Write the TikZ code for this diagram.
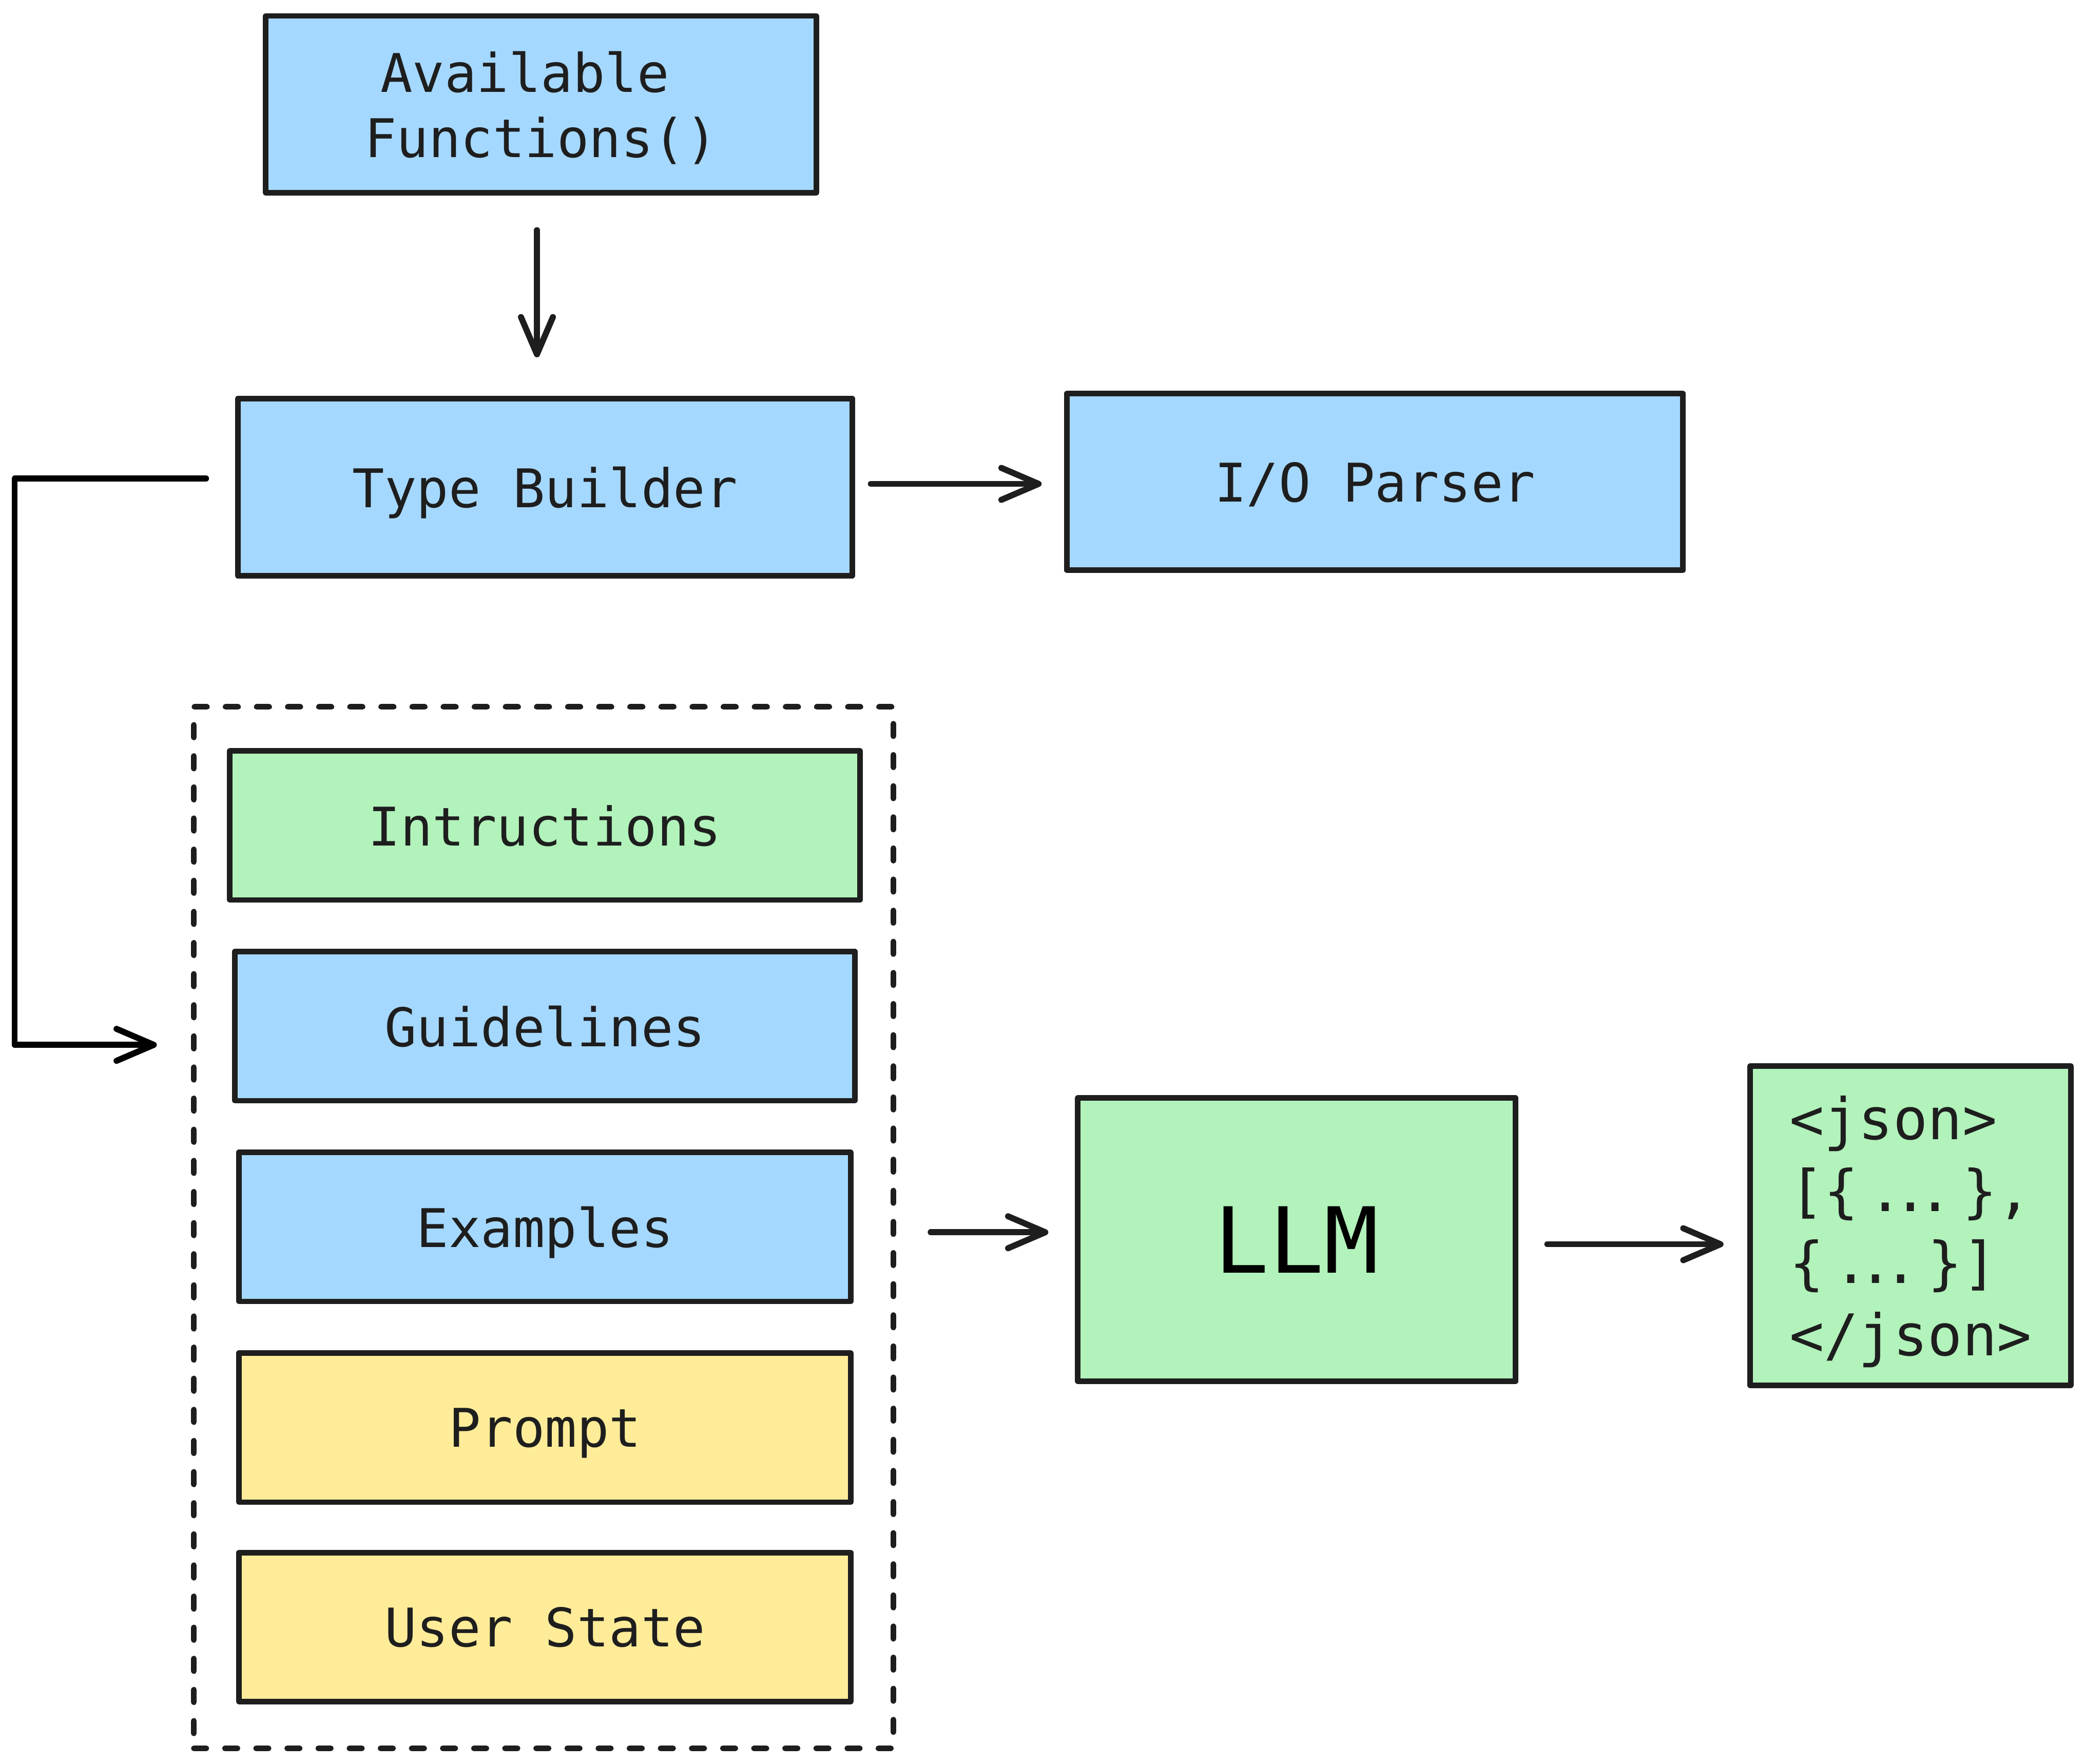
\documentclass[tikz,border=0pt]{standalone}
\usepackage{fontspec}
\setmonofont{DejaVu Sans Mono}
\usetikzlibrary{arrows.meta}
\definecolor{ink}{HTML}{1E1E1E}
\definecolor{cblue}{HTML}{A5D8FF}
\definecolor{cgreen}{HTML}{B2F2BB}
\definecolor{cyellow}{HTML}{FFEC99}
\newcommand\jsondots{\makebox[0.602em][c]{.\kern-0.17em.\kern-0.17em.}}
\begin{document}
\begin{tikzpicture}[x=0.01cm,y=-0.01cm,
  box/.style={draw=ink, line width=1.2pt, line join=round, inner sep=0pt, text=ink,
    text depth=0pt, font=\ttfamily\fontsize{11.4}{13.9}\selectfont},
  bluebox/.style={box, fill=cblue},
  greenbox/.style={box, fill=cgreen},
  yellowbox/.style={box, fill=cyellow},
  arr/.style={draw=ink, line width=1.3pt, line cap=round, line join=round,
    -{Straight Barb[length=0.28cm,width=0.24cm,line cap=round,line join=round]}},
  elbow/.style={draw=black, line width=1.3pt, line cap=round, line join=round,
    -{Straight Barb[length=0.28cm,width=0.24cm,line cap=round,line join=round]}},
  group/.style={draw=ink, line width=1.2pt, line cap=round, dash pattern=on 0.094cm off 0.14cm, inner sep=0pt},
]
\useasboundingbox (0,0) rectangle (1568,1327);

\node[bluebox, minimum width=4.14cm, minimum height=1.33cm, align=center] (af) at (407,78.5) {Available\phantom{x}\\Functions()};
\node[bluebox, minimum width=4.62cm, minimum height=1.33cm] (tb) at (410,366.5) {Type Builder};
\node[bluebox, minimum width=4.63cm, minimum height=1.33cm] (io) at (1034.5,362.5) {I/O Parser};

\node[group, minimum width=5.26cm, minimum height=7.83cm] (grp) at (409,923.5) {};
\node[greenbox, minimum width=4.74cm, minimum height=1.12cm] (ins) at (410,621) {Intructions};
\node[bluebox, minimum width=4.66cm, minimum height=1.12cm] (gui) at (410,772) {Guidelines};
\node[bluebox, minimum width=4.60cm, minimum height=1.12cm] (ex) at (410,923) {Examples};
\node[yellowbox, minimum width=4.60cm, minimum height=1.12cm] (pr) at (410,1074) {Prompt};
\node[yellowbox, minimum width=4.60cm, minimum height=1.12cm] (us) at (410,1224) {User State};

\node[greenbox, minimum width=3.29cm, minimum height=2.13cm, text=black,
  font=\ttfamily\fontsize{19.5}{23}\selectfont] (llm) at (975.5,932.5) {LLM};
\node[greenbox, minimum width=2.41cm, minimum height=2.40cm, align=left,
  font=\ttfamily\fontsize{12.3}{15.4}\selectfont] (json) at (1437.5,922) {<json>\\\relax[\{ \jsondots{} \},\\\{ \jsondots{} \}]\\</json>};

% connectors
\draw[arr, shorten <=0.26cm, shorten >=0.29cm] (af.south -| 404,0) -- (tb.north -| 404,0);
\draw[arr, shorten <=0.12cm, shorten >=0.17cm] (tb.east |- 0,364) -- (io.west |- 0,364);
\coordinate (elstart) at (155,360);
\coordinate (elend) at (118,786);
\draw[elbow] (elstart) -- (11,360) -- (11,786) -- (elend);
\draw[arr, shorten <=0.26cm, shorten >=0.20cm] (grp.east |- 0,927) -- (llm.west |- 0,927);
\draw[arr, shorten <=0.22cm, shorten >=0.18cm] (llm.east |- 0,936) -- (json.west |- 0,936);
\end{tikzpicture}
\end{document}
